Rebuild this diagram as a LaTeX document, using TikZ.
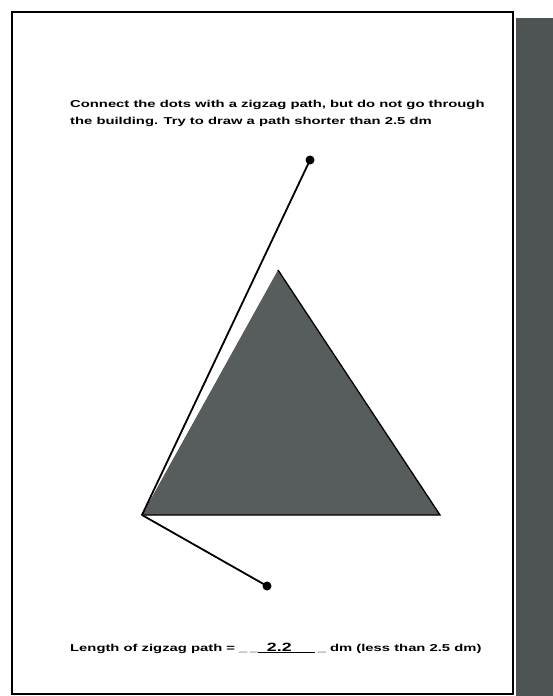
\documentclass[tikz,border=0pt]{standalone}
\usepackage{fontspec}
\setmainfont{Liberation Sans}
\definecolor{bldg}{HTML}{575C5C}
\definecolor{shadow}{HTML}{4E5454}
\newcommand{\wide}[1]{\scalebox{1.48}[1]{#1}}
\begin{document}
\begin{tikzpicture}[x=1pt,y=-1pt,
  txt/.style={anchor=west,inner sep=0pt,font=\bfseries\fontsize{10}{12}\selectfont},
  dotmark/.style={circle,fill=black,inner sep=0pt,minimum size=9pt},
  zig/.style={line width=1.8pt,line join=round}]
\useasboundingbox (0,0) rectangle (553,696);
% page shadow and frame
\fill[shadow] (516,18) rectangle (553,696);
\draw[line width=1.6pt,fill=white] (12,12) rectangle (513,694);
% texts
\node[txt] (t1) at (70,105) {\wide{Connect the dots with a zigzag path, but do not go through}};
\node[txt] (t2) at (70,122) {\wide{the building. Try to draw a path shorter than 2.5 dm}};
\node[txt] (t3) at (70,648) {\wide{Length of zigzag path = \_\,\_\underline{\hspace{0.6em}{\fontsize{12}{12}\selectfont 2.2}\hspace{1.6em}}\,\_ dm (less than 2.5 dm)}};
% building
\coordinate (apex) at (278,270);
\coordinate (bl) at (142,515);
\coordinate (br) at (440,515);
\fill[bldg] (apex) -- (bl) -- (br) -- cycle;
\draw[line width=1.3pt] (bl) -- (br) -- (apex);
% dots and path
\node[dotmark] (d1) at (310,160) {};
\node[dotmark] (d2) at (267,586) {};
\draw[zig] (d1.center) -- (bl) -- (d2.center);
\end{tikzpicture}
\end{document}
